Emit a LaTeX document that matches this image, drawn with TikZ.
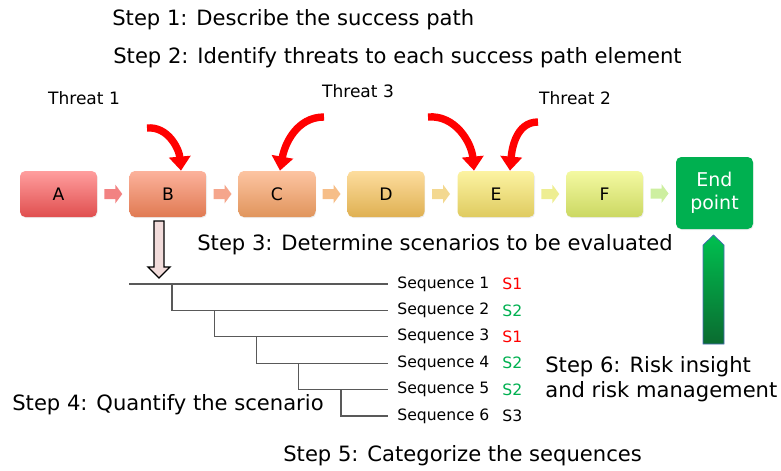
\documentclass[tikz,border=0pt]{standalone}
\usepackage{fontspec}
\setmainfont{DejaVu Sans}
\usetikzlibrary{arrows.meta,calc,shadows}
\definecolor{threatred}{HTML}{FF0000}
\definecolor{endgreen}{HTML}{00B050}
\definecolor{treegray}{HTML}{595959}
\definecolor{catred}{HTML}{FF0000}
\definecolor{catgreen}{HTML}{00B050}
\definecolor{aTop}{HTML}{FF9E9E}\definecolor{aBot}{HTML}{E04F4F}
\definecolor{bTop}{HTML}{FCB29C}\definecolor{bBot}{HTML}{E07A52}
\definecolor{cTop}{HTML}{FDC4A2}\definecolor{cBot}{HTML}{E0955C}
\definecolor{dTop}{HTML}{FDDD9E}\definecolor{dBot}{HTML}{DFB052}
\definecolor{eTop}{HTML}{FCF3A2}\definecolor{eBot}{HTML}{DFCB60}
\definecolor{fTop}{HTML}{F4F9A2}\definecolor{fBot}{HTML}{CBD862}
\definecolor{lnkAB}{HTML}{F28282}
\definecolor{lnkBC}{HTML}{F5A68C}
\definecolor{lnkCD}{HTML}{F6BE88}
\definecolor{lnkDE}{HTML}{F3D890}
\definecolor{lnkEF}{HTML}{EEEE92}
\definecolor{lnkFend}{HTML}{CDEFA0}
\definecolor{downpink}{HTML}{F2DCDB}
\definecolor{upTop}{HTML}{00C050}
\definecolor{upBot}{HTML}{0A6B30}
\definecolor{upEdge}{HTML}{4A6BB8}
\tikzset{stage/.style={rounded corners=3pt,minimum width=77*0.02cm,minimum height=46*0.02cm,
  font=\fontsize{9.8}{11}\selectfont,drop shadow={opacity=.15,shadow xshift=.4pt,shadow yshift=-.6pt}},
steplab/.style={anchor=west,font=\fontsize{12}{14.2}\selectfont,align=left,inner sep=0pt},
threatlab/.style={font=\fontsize{9.7}{11}\selectfont},
threat/.style={-{Triangle[width=12pt,length=8pt]},line width=4.2pt,threatred},
linkarrow/.pic={\path[pic actions] (-9,-5) -- (2,-5) -- (2,-9.5) -- (9,0) -- (2,9.5) -- (2,5) -- (-9,5) -- cycle;},
seqlab/.style={anchor=west,font=\fontsize{8.9}{10}\selectfont,inner ysep=0pt,inner xsep=9*0.02cm},
branch/.style={treegray,line width=.7pt}}

\begin{document}
\begin{tikzpicture}[x=0.02cm,y=-0.02cm]
\useasboundingbox (0,0) rectangle (781,470);
% step texts
\node[steplab] (s1) at (112,20) {Step 1: Describe the success path};
\node[steplab] (s2) at (113,58) {Step 2: Identify threats to each success path element};
\node[steplab] (s3) at (197,245) {Step 3: Determine scenarios to be evaluated};
\node[steplab] (s4) at (12,405) {Step 4: Quantify the scenario};
\node[steplab] (s5) at (283,456) {Step 5: Categorize the sequences};
\node[steplab] (s6) at (545,379) {Step 6: Risk insight\\and risk management};
% success path
\node[stage,top color=aTop,bottom color=aBot] (A) at (58.5,194) {A};
\node[stage,top color=bTop,bottom color=bBot] (B) at (168,194) {B};
\node[stage,top color=cTop,bottom color=cBot] (C) at (277,194) {C};
\node[stage,top color=dTop,bottom color=dBot] (D) at (386,194) {D};
\node[stage,top color=eTop,bottom color=eBot] (E) at (496,194) {E};
\node[stage,top color=fTop,bottom color=fBot] (F) at (604.5,194) {F};
\node[stage,fill=endgreen,text=white,minimum height=72*0.02cm,font=\fontsize{10.8}{13}\selectfont,align=center]
  (end) at (714.5,193) {End\\point};
\pic[fill=lnkAB] at ($(A.east)!.5!(B.west)$) {linkarrow};
\pic[fill=lnkBC] at ($(B.east)!.5!(C.west)$) {linkarrow};
\pic[fill=lnkCD] at ($(C.east)!.5!(D.west)$) {linkarrow};
\pic[fill=lnkDE] at ($(D.east)!.5!(E.west)$) {linkarrow};
\pic[fill=lnkEF] at ($(E.east)!.5!(F.west)$) {linkarrow};
\pic[fill=lnkFend] at ($(F.east)!.5!(end.west)$) {linkarrow};
% threats
\node[threatlab] (t1) at (84,98) {Threat 1};
\node[threatlab] (t3) at (358,91) {Threat 3};
\node[threatlab] (t2) at (575,98) {Threat 2};
\coordinate (t1s) at (147,128);
\coordinate (t3s) at (324,117);
\coordinate (t4s) at (428,117);
\coordinate (t2s) at (538,122);
\draw[threat] (t1s) to[out=5,in=95] ($(B.north)+(13,0)$);
\draw[threat] (t3s) to[out=180,in=80] ($(C.north)+(3,0)$);
\draw[threat] (t4s) to[out=5,in=95] ($(E.north)+(-22,0)$);
\draw[threat] (t2s) to[out=180,in=85] ($(E.north)+(14,0)$);
% arrows down and up
\draw[fill=downpink,line width=.8pt] (154,221) -- (164,221) -- (164,267) -- (170,267) -- (159,278)
  -- (148,267) -- (154,267) -- cycle;
\draw[top color=upTop,bottom color=upBot,draw=upEdge,line width=.4pt]
  (703,344) -- (724,344) -- (724,245) -- (713.5,235) -- (703,245) -- cycle;
% event tree
\foreach \i/\c/\k in {1/S1/catred,2/S2/catgreen,3/S1/catred,4/S2/catgreen,5/S2/catgreen,6/S3/black}{
  \node[seqlab] (q\i) at (388,{284+26.4*(\i-1)}) {Sequence \i};
  \node[seqlab,text=\k,inner xsep=0pt] (c\i) at (502,{284+26.4*(\i-1)}) {\c};
}
\draw[branch] (129,284) -- (q1.west);
\foreach \i [count=\j from 0] in {2,...,6}{
  \pgfmathsetmacro{\bx}{172+42.25*\j}
  \draw[branch] (\bx,{284+26.4*(\i-2)}) |- (q\i.west);
}
\end{tikzpicture}
\end{document}
